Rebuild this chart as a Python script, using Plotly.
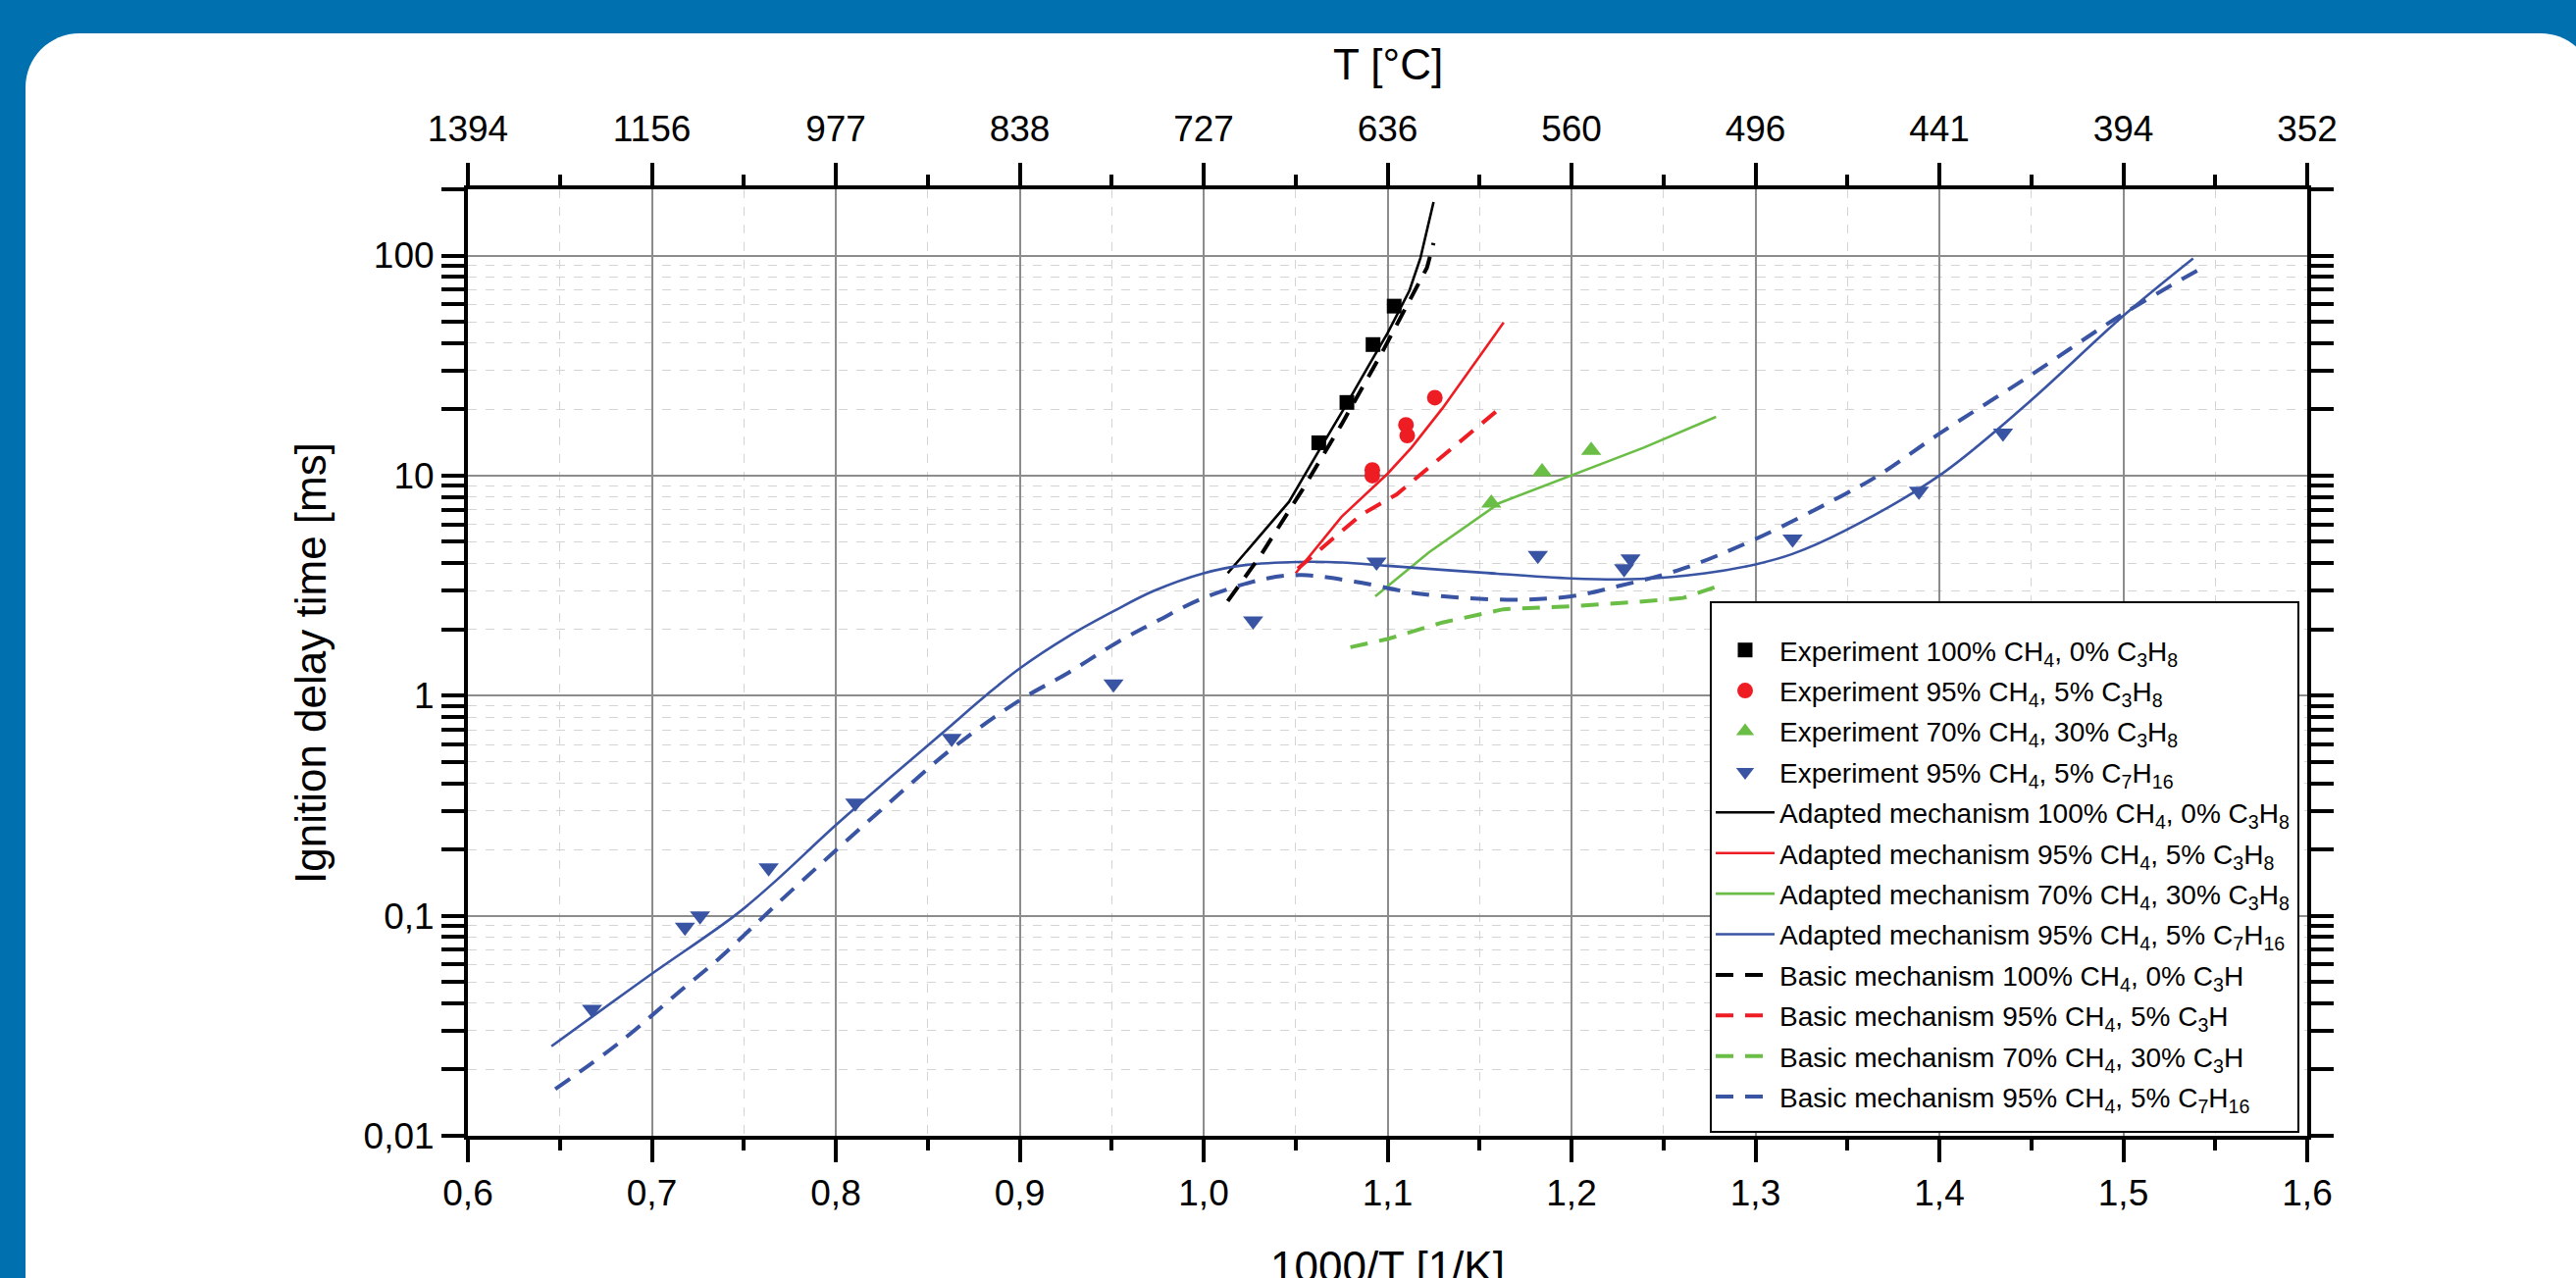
import math
import plotly.graph_objects as go

# ---------------- data ----------------
x_tick_vals = [0.6, 0.7, 0.8, 0.9, 1.0, 1.1, 1.2, 1.3, 1.4, 1.5, 1.6]
x_tick_text = ["0,6", "0,7", "0,8", "0,9", "1,0", "1,1", "1,2", "1,3", "1,4", "1,5", "1,6"]
t_tick_text = ["1394", "1156", "977", "838", "727", "636", "560", "496", "441", "394", "352"]
y_tick_vals = [0.01, 0.1, 1, 10, 100]
y_tick_text = ["0,01", "0,1", "1", "10", "100"]

# Experiments
exp_100_x = [1.0626, 1.0779, 1.0921, 1.1036]
exp_100_y = [14.1, 21.5, 39.4, 58.9]

exp_95c3_x = [1.0917, 1.0917, 1.1100, 1.1107, 1.1257]
exp_95c3_y = [10.6, 10.0, 17.0, 15.2, 22.6]

exp_70_x = [1.1564, 1.1840, 1.2107]
exp_70_y = [7.5, 10.4, 13.0]

exp_c7_x = [0.6675, 0.7180, 0.7262, 0.7635, 0.8106, 0.8630, 0.9510, 1.0269,
            1.0940, 1.1817, 1.2286, 1.2321, 1.3202, 1.3889, 1.4346]
exp_c7_y = [0.0376, 0.0887, 0.100, 0.165, 0.325, 0.64, 1.13, 2.19,
            4.05, 4.34, 3.78, 4.19, 5.15, 8.5, 15.6]

# Adapted mechanism (solid)
ad_100_x = [1.0131, 1.0464, 1.0620, 1.0774, 1.0900, 1.1000, 1.1119, 1.1179, 1.1250]
ad_100_y = [3.6, 7.6, 12.7, 20.9, 31.9, 44.4, 69.3, 97.7, 175.0]

ad_95c3_x = [1.0500, 1.0750, 1.1000, 1.1130, 1.1298, 1.1631]
ad_95c3_y = [3.6, 6.5, 10.2, 13.4, 20.2, 49.6]

ad_70_x = [1.0933, 1.1226, 1.1607, 1.2000, 1.2393, 1.2786]
ad_70_y = [2.83, 4.49, 7.5, 10.0, 13.4, 18.5]

ad_c7_x = [0.6454, 0.6980, 0.7450, 0.7657, 0.8000, 0.8310, 0.8580, 0.8815,
           0.9000, 0.9264, 0.9510, 0.9728, 1.0000, 1.0226, 1.0512, 1.0750, 1.1000,
           1.1500, 1.2000, 1.2370, 1.2726, 1.3000, 1.3200, 1.3483, 1.4000,
           1.4480, 1.5000, 1.5380]
ad_c7_y = [0.0255, 0.0530, 0.100, 0.140, 0.258, 0.434, 0.677, 1.0,
           1.33, 1.86, 2.42, 2.99, 3.6, 3.92, 4.05, 4.03, 3.89,
           3.63, 3.41, 3.39, 3.6, 3.95, 4.40, 5.6, 10.0,
           21.3, 53.2, 97.0]

# Basic mechanism (dashed)
bs_100_x = [1.0131, 1.0310, 1.0536, 1.0750, 1.0964, 1.1095, 1.1214, 1.1250]
bs_100_y = [2.69, 4.34, 8.6, 17.1, 35.5, 56.5, 88.0, 114.0]

bs_95c3_x = [1.0512, 1.0857, 1.1048, 1.1214, 1.1380, 1.1595]
bs_95c3_y = [3.78, 6.65, 8.2, 10.7, 14.0, 19.7]

bs_70_x = [1.0798, 1.1000, 1.1298, 1.1631, 1.2000, 1.2370, 1.2607, 1.2820]
bs_70_y = [1.66, 1.81, 2.15, 2.47, 2.55, 2.67, 2.78, 3.19]

bs_c7_x = [0.6475, 0.6828, 0.7166, 0.7357, 0.7680, 0.8000, 0.8310, 0.8638, 0.9000,
           0.9264, 0.9537, 0.9750, 1.0000, 1.0345, 1.0536, 1.0820, 1.1180, 1.1650,
           1.2000, 1.2250, 1.2607, 1.3000, 1.3483, 1.3667, 1.4000, 1.4480, 1.5000,
           1.5430]
bs_c7_y = [0.0163, 0.0267, 0.0464, 0.063, 0.113, 0.198, 0.337, 0.58, 0.953,
           1.27, 1.76, 2.19, 2.78, 3.41, 3.53, 3.30, 2.90, 2.73,
           2.83, 3.14, 3.78, 5.15, 8.2, 10.0, 15.5, 28.0, 54.4,
           88.0]

# ---------------- styling ----------------
W, H = 2626, 1303
PL, PR, PT, PB = 477, 2352, 193, 1158   # plot area in pixels
FONT = "Arial, Liberation Sans, Helvetica, sans-serif"
BLACK, RED, GREEN, BLUE = "#000000", "#EE1D23", "#6ABD45", "#3A54A4"
BG_BLUE = "#0070AF"
DASH = "18px,12px"


def fx(px):
    return (px - PL) / (PR - PL)


def fy(py):
    return (PB - py) / (PB - PT)


fig = go.Figure()

lab_exp = [
    "Experiment 100% CH<sub>4</sub>, 0% C<sub>3</sub>H<sub>8</sub>",
    "Experiment 95% CH<sub>4</sub>, 5% C<sub>3</sub>H<sub>8</sub>",
    "Experiment 70% CH<sub>4</sub>, 30% C<sub>3</sub>H<sub>8</sub>",
    "Experiment 95% CH<sub>4</sub>, 5% C<sub>7</sub>H<sub>16</sub>",
]
lab_ad = [
    "Adapted mechanism 100% CH<sub>4</sub>, 0% C<sub>3</sub>H<sub>8</sub>",
    "Adapted mechanism 95% CH<sub>4</sub>, 5% C<sub>3</sub>H<sub>8</sub>",
    "Adapted mechanism 70% CH<sub>4</sub>, 30% C<sub>3</sub>H<sub>8</sub>",
    "Adapted mechanism 95% CH<sub>4</sub>, 5% C<sub>7</sub>H<sub>16</sub>",
]
lab_bs = [
    "Basic mechanism 100% CH<sub>4</sub>, 0% C<sub>3</sub>H",
    "Basic mechanism 95% CH<sub>4</sub>, 5% C<sub>3</sub>H",
    "Basic mechanism 70% CH<sub>4</sub>, 30% C<sub>3</sub>H",
    "Basic mechanism 95% CH<sub>4</sub>, 5% C<sub>7</sub>H<sub>16</sub>",
]

colors = [BLACK, RED, GREEN, BLUE]
exp_data = [(exp_100_x, exp_100_y), (exp_95c3_x, exp_95c3_y), (exp_70_x, exp_70_y), (exp_c7_x, exp_c7_y)]
ad_data = [(ad_100_x, ad_100_y), (ad_95c3_x, ad_95c3_y), (ad_70_x, ad_70_y), (ad_c7_x, ad_c7_y)]
bs_data = [(bs_100_x, bs_100_y), (bs_95c3_x, bs_95c3_y), (bs_70_x, bs_70_y), (bs_c7_x, bs_c7_y)]
symbols = ["square", "circle", "triangle-up", "triangle-down"]
msizes = [15, 16, 18, 18]
shapes_line = ["linear", "linear", "linear", "spline"]

for i in range(4):
    x, y = ad_data[i]
    fig.add_trace(go.Scatter(x=x, y=y, mode="lines", name=lab_ad[i],
                             line=dict(color=colors[i], width=2.6, shape=shapes_line[i],
                                       smoothing=1.0),
                             legendgroup=f"ad{i}", legendrank=10 + i))
for i in range(4):
    x, y = bs_data[i]
    fig.add_trace(go.Scatter(x=x, y=y, mode="lines", name=lab_bs[i],
                             line=dict(color=colors[i], width=4, dash=DASH, shape=shapes_line[i],
                                       smoothing=1.0),
                             legendgroup=f"bs{i}", legendrank=20 + i))
for i in range(4):
    x, y = exp_data[i]
    fig.add_trace(go.Scatter(x=x, y=y, mode="markers", name=lab_exp[i],
                             marker=dict(color=colors[i], symbol=symbols[i], size=msizes[i],
                                         line=dict(width=0)),
                             legendgroup=f"ex{i}", legendrank=1 + i))

# invisible trace to carry the top temperature axis
fig.add_trace(go.Scatter(x=x_tick_vals, y=[None] * len(x_tick_vals), xaxis="x2",
                         mode="markers", showlegend=False, hoverinfo="skip"))

major_grid = "#8C8C8C"
minor_grid = "#D4D4D4"
x_minor = [round(v + 0.05, 2) for v in x_tick_vals[:-1]]
y_minor = [m * 10 ** k for k in range(-2, 3) for m in range(2, 10) if m * 10 ** k <= 200]

axis_common = dict(
    showline=True, linewidth=4, linecolor="black",
    ticks="outside", ticklen=23, tickwidth=4, tickcolor="black",
    tickfont=dict(family=FONT, size=37, color="black"),
    zeroline=False,
)

fig.update_layout(
    width=W, height=H, autosize=False,
    margin=dict(l=PL, r=W - PR, t=PT, b=H - PB, pad=0),
    paper_bgcolor=BG_BLUE,
    plot_bgcolor="rgba(0,0,0,0)",
    font=dict(family=FONT, color="black"),
    showlegend=True,
    xaxis=dict(
        range=[0.6, 1.6], tickmode="array", tickvals=x_tick_vals, ticktext=x_tick_text,
        showgrid=True, gridcolor=major_grid, gridwidth=2, mirror=False,
        minor=dict(tickmode="array", tickvals=x_minor, ticks="outside", ticklen=11,
                   tickwidth=4, tickcolor="black", showgrid=True, gridcolor=minor_grid,
                   gridwidth=1.3, griddash="dash"),
        **axis_common,
    ),
    xaxis2=dict(
        range=[0.6, 1.6], overlaying="x", side="top", anchor="y",
        tickmode="array", tickvals=x_tick_vals, ticktext=t_tick_text,
        showgrid=False, ticklabelstandoff=7,
        minor=dict(tickmode="array", tickvals=x_minor, ticks="outside", ticklen=11,
                   tickwidth=4, tickcolor="black", showgrid=False),
        **axis_common,
    ),
    yaxis=dict(
        type="log", range=[-2, math.log10(200)],
        tickmode="array", tickvals=y_tick_vals, ticktext=y_tick_text,
        showgrid=True, gridcolor=major_grid, gridwidth=2, mirror="allticks",
        minor=dict(tickmode="array", tickvals=y_minor, ticks="outside", ticklen=11,
                   tickwidth=4, tickcolor="black", showgrid=True, gridcolor=minor_grid,
                   gridwidth=1.3, griddash="dash"),
        **axis_common,
    ),
    legend=dict(
        x=fx(1744), y=fy(638), xanchor="left", yanchor="top",
        bgcolor="rgba(0,0,0,0)", borderwidth=0,
        font=dict(family=FONT, size=28, color="black"),
        itemwidth=60, tracegroupgap=2, traceorder="grouped",
    ),
)

# white rounded panel on the blue background
x0, x1 = fx(26), fx(2645)
yt, yb = fy(34), fy(1330)
rx, ry = 55 / (PR - PL), 55 / (PB - PT)
k = 0.5523
panel_path = (
    f"M {x0},{yb} L {x0},{yt - ry} "
    f"C {x0},{yt - ry + k * ry} {x0 + rx - k * rx},{yt} {x0 + rx},{yt} "
    f"L {x1 - rx},{yt} "
    f"C {x1 - rx + k * rx},{yt} {x1},{yt - ry + k * ry} {x1},{yt - ry} "
    f"L {x1},{yb} Z"
)
fig.add_shape(type="path", path=panel_path, xref="paper", yref="paper",
              fillcolor="white", line=dict(width=0), layer="below")

# legend frame
fig.add_shape(type="rect", xref="paper", yref="paper",
              x0=fx(1744), x1=fx(2343), y0=fy(1154), y1=fy(614),
              fillcolor="white", line=dict(color="black", width=2), layer="above")

# axis titles
fig.add_annotation(text="T [°C]", xref="paper", yref="paper", x=0.5, y=fy(65),
                   xanchor="center", yanchor="middle", showarrow=False,
                   font=dict(family=FONT, size=44, color="black"))
fig.add_annotation(text="Ignition delay time [ms]", xref="paper", yref="paper",
                   x=fx(316), y=fy(676), textangle=-90,
                   xanchor="center", yanchor="middle", showarrow=False,
                   font=dict(family=FONT, size=44, color="black"))
fig.add_annotation(text="1000/T [1/K]", xref="paper", yref="paper", x=0.5, y=fy(1291),
                   xanchor="center", yanchor="middle", showarrow=False,
                   font=dict(family=FONT, size=44, color="black"))

fig.write_html("out.html", config={"displayModeBar": False},
               post_script="document.body.style.margin='0';")
